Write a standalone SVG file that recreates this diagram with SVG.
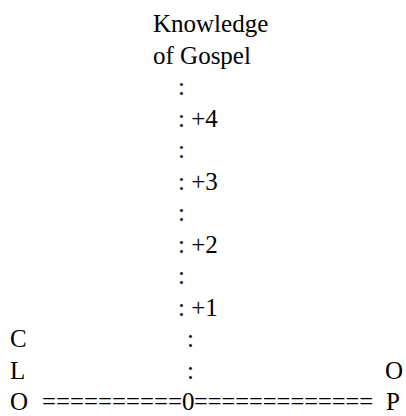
<svg xmlns="http://www.w3.org/2000/svg" width="406" height="416" viewBox="0 0 406 416">
<style>
text{font-family:"Liberation Serif","Times New Roman",serif;font-size:25px;fill:#000}
</style>
<rect width="406" height="416" fill="#fff"/>
<g id="title">
<text x="153" y="32">Knowledge</text>
<text x="153" y="63.5">of Gospel</text>
</g>
<g id="scale">
<text x="178" y="95">:</text>
<text x="178" y="126.5">: +4</text>
<text x="178" y="158">:</text>
<text x="178" y="189.5">: +3</text>
<text x="178" y="221">:</text>
<text x="178" y="252.5">: +2</text>
<text x="178" y="284">:</text>
<text x="178" y="315.5">: +1</text>
<text x="187" y="347">:</text>
<text x="187" y="378.5">:</text>
</g>
<g id="left-label">
<text x="10" y="347">C</text>
<text x="10" y="378.5">L</text>
<text x="10" y="410">O</text>
</g>
<g id="right-label">
<text x="385" y="378.5">O</text>
<text x="386" y="410">P</text>
</g>
<g id="axis">
<text x="42" y="410" textLength="140" lengthAdjust="spacingAndGlyphs">==========</text>
<text x="182" y="410">0</text>
<text x="194" y="410" textLength="179" lengthAdjust="spacingAndGlyphs">=============</text>
</g>
</svg>
